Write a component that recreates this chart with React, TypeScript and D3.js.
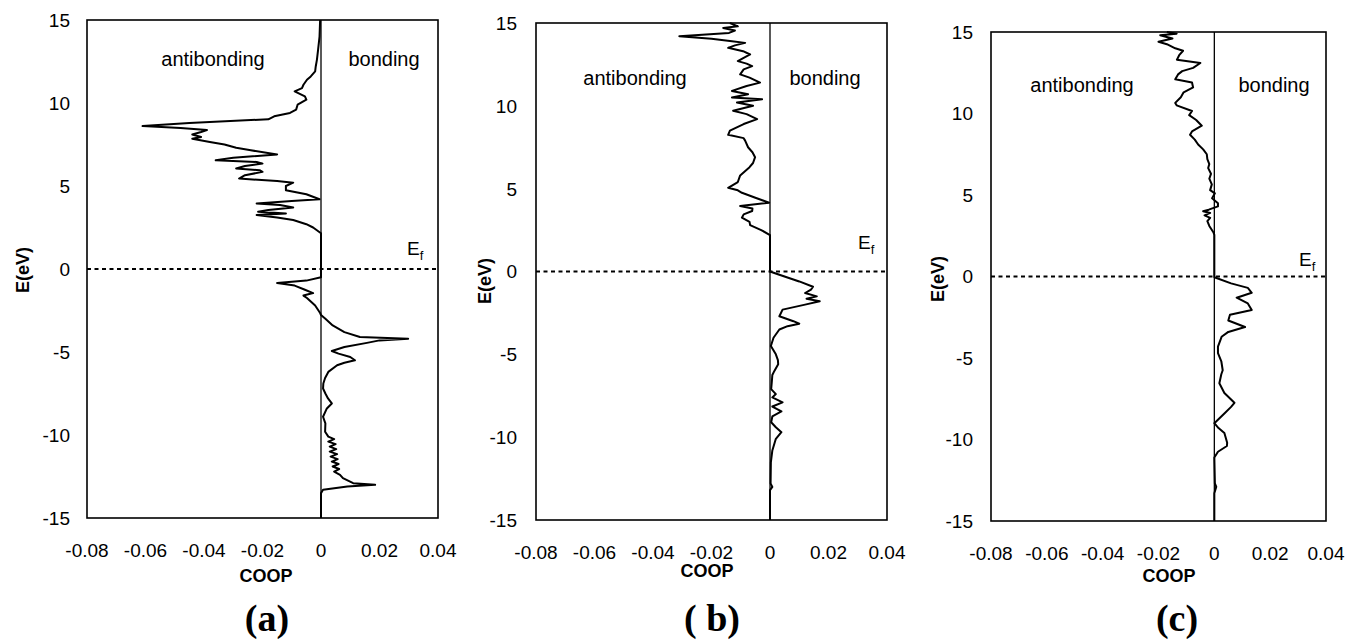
import React, { useRef, useEffect } from 'react';
import * as d3 from 'd3';

type Pt = [number, number]; // [E (eV), COOP]

const coopTicks = [-0.08, -0.06, -0.04, -0.02, 0, 0.02, 0.04];
const coopTickLabels = ['-0.08', '-0.06', '-0.04', '-0.02', '0', '0.02', '0.04'];
const energyTicks = [-15, -10, -5, 0, 5, 10, 15];
const panelLabels = ['(a)', '( b)', '(c)'];

// (a)
const coopA: Pt[] = [
  [15, -0.0003], [14.0, -0.0005], [13.2, -0.001], [12.6, -0.0014], [12.2, -0.0018], [11.9, -0.002],
  [11.6, -0.0035], [11.4, -0.0048], [11.1, -0.006], [10.9, -0.0065], [10.7, -0.009], [10.4, -0.0055],
  [10.2, -0.005], [9.9, -0.008], [9.6, -0.0085], [9.4, -0.0106], [9.2, -0.016], [9.02, -0.018],
  [8.8, -0.045], [8.61, -0.061], [8.5, -0.048], [8.37, -0.039], [8.25, -0.041], [8.1, -0.044],
  [7.95, -0.041], [7.85, -0.044], [7.65, -0.038], [7.5, -0.033], [7.3, -0.029], [7.15, -0.024],
  [6.9, -0.015], [6.7, -0.03], [6.55, -0.036], [6.45, -0.022], [6.35, -0.02], [6.2, -0.026],
  [6.05, -0.029], [5.95, -0.021], [5.85, -0.02], [5.65, -0.026], [5.45, -0.028], [5.3, -0.015],
  [5.2, -0.0095], [5.0, -0.012], [4.75, -0.012], [4.5, -0.005], [4.2, -0.0005], [4.1, -0.01],
  [3.95, -0.022], [3.85, -0.014], [3.7, -0.0095], [3.55, -0.018], [3.45, -0.0215], [3.35, -0.012],
  [3.25, -0.022], [3.1, -0.015], [2.95, -0.0095], [2.7, -0.005], [2.5, -0.0027], [2.15, 0],
  [-0.5, 0], [-0.7, -0.005], [-0.85, -0.015], [-1.0, -0.009], [-1.25, -0.0055], [-1.45, -0.0027],
  [-1.6, -0.006], [-1.75, -0.0048], [-2.2, -0.002], [-2.65, -0.0003], [-2.77, 0], [-3.0, 0.0015],
  [-3.4, 0.004], [-3.8, 0.008], [-4.1, 0.0133], [-4.2, 0.0298], [-4.3, 0.02], [-4.45, 0.0157],
  [-4.7, 0.008], [-4.94, 0.0037], [-5.1, 0.006], [-5.3, 0.01], [-5.5, 0.0116], [-5.65, 0.008],
  [-5.8, 0.0055], [-6.2, 0.0025], [-6.57, 0.0014], [-6.9, 0.0008], [-7.2, 0.0007], [-7.5, 0.0015],
  [-7.8, 0.0024], [-8.1, 0.0037], [-8.4, 0.002], [-8.9, 0.0007], [-9.3, 0.0015], [-9.8, 0.0014],
  [-10.1, 0.0025], [-10.25, 0.0045], [-10.4, 0.0025], [-10.55, 0.005], [-10.7, 0.003], [-10.85, 0.0052],
  [-11.0, 0.003], [-11.15, 0.0055], [-11.3, 0.0033], [-11.45, 0.0057], [-11.6, 0.0037], [-11.75, 0.006],
  [-11.9, 0.004], [-12.05, 0.0062], [-12.2, 0.0045], [-12.4, 0.0065], [-12.6, 0.0075], [-12.9, 0.011],
  [-13.0, 0.0185], [-13.1, 0.009], [-13.3, 0.0007], [-13.5, 0], [-15, 0],
];

// (b)
const coopB: Pt[] = [
  [15, -0.0137], [14.8, -0.011], [14.7, -0.016], [14.55, -0.012], [14.4, -0.014], [14.2, -0.031],
  [14.05, -0.02], [13.9, -0.013], [13.8, -0.0085], [13.65, -0.012], [13.5, -0.0143], [13.3, -0.0092],
  [13.1, -0.0068], [12.9, -0.009], [12.7, -0.011], [12.55, -0.008], [12.4, -0.0061], [12.2, -0.009],
  [11.9, -0.0102], [11.7, -0.007], [11.4, -0.0034], [11.2, -0.008], [10.9, -0.013], [10.7, -0.0075],
  [10.5, -0.013], [10.4, -0.0027], [10.2, -0.0113], [10.0, -0.0058], [9.7, -0.0126], [9.5, -0.008],
  [9.2, -0.0044], [8.9, -0.009], [8.5, -0.0137], [8.25, -0.0143], [8.05, -0.009], [7.9, -0.0085],
  [7.5, -0.0075], [7.2, -0.006], [6.9, -0.0051], [6.55, -0.0058], [6.3, -0.007], [5.8, -0.0102],
  [5.4, -0.011], [5.05, -0.0143], [4.9, -0.011], [4.75, -0.0096], [4.45, -0.005], [4.15, -0.0003],
  [4.0, -0.008], [3.95, -0.0102], [3.8, -0.006], [3.65, -0.0061], [3.45, -0.009], [3.25, -0.0096],
  [3.0, -0.007], [2.8, -0.0068], [2.5, -0.003], [2.2, 0], [0, 0],
  [-0.2, 0.0032], [-0.6, 0.01], [-0.92, 0.0147], [-1.1, 0.014], [-1.3, 0.012], [-1.5, 0.016],
  [-1.65, 0.0125], [-1.8, 0.017], [-2.0, 0.012], [-2.3, 0.0043], [-2.7, 0.0032], [-3.0, 0.008],
  [-3.15, 0.01], [-3.3, 0.006], [-3.5, 0.0032], [-4.0, 0.0012], [-4.5, 0.0003], [-5.0, 0.002],
  [-5.35, 0.0027], [-5.6, 0.0028], [-6.0, 0.0015], [-6.25, 0.0008], [-6.7, 0.0006], [-7.1, 0.0004],
  [-7.4, 0.002], [-7.6, 0.0008], [-7.9, 0.0043], [-8.15, 0.0008], [-8.45, 0.0039], [-8.75, 0.0008],
  [-9.1, 0.0004], [-9.4, 0.002], [-9.7, 0.0039], [-10.1, 0.002], [-10.8, 0.0008], [-11.5, 0.0003],
  [-12.8, 0.0002], [-13.0, 0.0008], [-13.2, 0], [-15, 0],
];

// (c)
const coopC: Pt[] = [
  [15, -0.017], [14.9, -0.0135], [14.8, -0.0194], [14.6, -0.015], [14.4, -0.02], [14.25, -0.017],
  [14.0, -0.014], [13.85, -0.0112], [13.6, -0.0125], [13.3, -0.0134], [13.1, -0.005], [12.8, -0.0076],
  [12.6, -0.0115], [12.4, -0.013], [12.1, -0.014], [11.9, -0.008], [11.6, -0.0076], [11.3, -0.011],
  [11.0, -0.012], [10.65, -0.014], [10.5, -0.0135], [10.15, -0.008], [9.9, -0.009], [9.6, -0.0065],
  [9.25, -0.0045], [8.9, -0.008], [8.7, -0.0087], [8.4, -0.007], [8.1, -0.0058], [7.8, -0.004],
  [7.5, -0.0027], [7.2, -0.0025], [6.9, -0.0018], [6.65, -0.0022], [6.3, -0.0012], [6.0, -0.0018],
  [5.65, -0.0009], [5.3, -0.0015], [5.1, 0.0002], [4.8, -0.0008], [4.5, 0.0013], [4.3, 0.0013],
  [4.1, -0.002], [4.0, -0.004], [3.9, -0.0015], [3.75, -0.0035], [3.6, -0.0015], [3.4, -0.0025],
  [3.1, -0.0018], [2.7, -0.0003], [2.55, 0], [0, 0],
  [-0.05, 0], [-0.42, 0.006], [-0.7, 0.012], [-1.0, 0.0134], [-1.3, 0.008], [-1.65, 0.012],
  [-2.05, 0.0134], [-2.35, 0.0056], [-2.7, 0.005], [-3.1, 0.011], [-3.4, 0.005], [-3.7, 0.0026],
  [-4.3, 0.0013], [-4.7, 0.0013], [-5.2, 0.0025], [-5.75, 0.003], [-6.0, 0.0025], [-6.55, 0.0018],
  [-7.15, 0.0036], [-7.75, 0.0072], [-8.0, 0.006], [-8.4, 0.0036], [-9.0, 0], [-9.3, 0.0015],
  [-9.6, 0.0036], [-10.2, 0.0046], [-10.4, 0.0045], [-10.75, 0.0013], [-11.1, 0], [-12.7, 0.0002],
  [-12.9, 0.0007], [-13.3, 0], [-15, 0],
];

const SANS = '"Liberation Sans", Arial, Helvetica, sans-serif';
const SERIF = '"Liberation Serif", "Times New Roman", serif';

// pixel layout of each panel
const layouts = [
  { left: 87, right: 438, top: 20, bottom: 518, tickX: 70, titleX: 23, titleY: 270, coopX: 266, coopY: 582, labelX: 267, efX: 407, efY: 255, annoY: 66, antiX: 213, bondX: 384 },
  { left: 536, right: 887, top: 23, bottom: 520, tickX: 517, titleX: 485, titleY: 281, coopX: 707, coopY: 577, labelX: 712, efX: 858, efY: 249, annoY: 85, antiX: 635, bondX: 825 },
  { left: 991, right: 1326, top: 32, bottom: 521, tickX: 973, titleX: 938, titleY: 279, coopX: 1169, coopY: 582, labelX: 1177, efX: 1299, efY: 266, annoY: 92, antiX: 1082, bondX: 1274 },
];

const series = [coopA, coopB, coopC];

export default function App() {
  const svgRef = useRef<SVGSVGElement>(null);

  useEffect(() => {
    if (!svgRef.current) return;
    const svg = d3.select(svgRef.current);
    svg.selectAll('*').remove();

    layouts.forEach((L, i) => {
      const g = svg.append('g');
      const x = d3.scaleLinear().domain([-0.08, 0.04]).range([L.left, L.right]);
      const y = d3.scaleLinear().domain([-15, 15]).range([L.bottom, L.top]);

      // frame
      g.append('rect')
        .attr('x', x(-0.08)).attr('y', y(15))
        .attr('width', x(0.04) - x(-0.08)).attr('height', y(-15) - y(15))
        .attr('fill', 'none').attr('stroke', '#000').attr('stroke-width', 1.6);

      // zero COOP line
      g.append('line')
        .attr('x1', x(0)).attr('x2', x(0)).attr('y1', y(15)).attr('y2', y(-15))
        .attr('stroke', '#000').attr('stroke-width', 1.3);

      // Fermi level
      g.append('line')
        .attr('x1', x(-0.08)).attr('x2', x(0.04)).attr('y1', y(0)).attr('y2', y(0))
        .attr('stroke', '#000').attr('stroke-width', 2).attr('stroke-dasharray', '4,3.5');

      const line = d3.line<Pt>().x(d => x(d[1])).y(d => y(d[0]));
      g.append('path')
        .datum(series[i])
        .attr('d', line)
        .attr('fill', 'none').attr('stroke', '#000').attr('stroke-width', 2)
        .attr('stroke-linejoin', 'round');

      // x tick labels
      g.selectAll('.xt').data(coopTicks).enter().append('text')
        .attr('x', d => x(d)).attr('y', L.bottom + 39)
        .attr('text-anchor', 'middle')
        .attr('font-family', SANS).attr('font-size', 19)
        .text((d, k) => coopTickLabels[k]);

      // y tick labels
      g.selectAll('.yt').data(energyTicks).enter().append('text')
        .attr('x', L.tickX).attr('y', d => y(d)).attr('dy', '0.36em')
        .attr('text-anchor', 'end')
        .attr('font-family', SANS).attr('font-size', 19)
        .text(d => String(d));

      g.append('text')
        .attr('transform', `translate(${L.titleX},${L.titleY}) rotate(-90)`)
        .attr('text-anchor', 'middle').attr('dy', '0.36em')
        .attr('font-family', SANS).attr('font-size', 18).attr('font-weight', 'bold')
        .text('E(eV)');

      g.append('text')
        .attr('x', L.coopX).attr('y', L.coopY)
        .attr('text-anchor', 'middle')
        .attr('font-family', SANS).attr('font-size', 18).attr('font-weight', 'bold')
        .text('COOP');

      g.append('text')
        .attr('x', L.antiX).attr('y', L.annoY)
        .attr('text-anchor', 'middle')
        .attr('font-family', SANS).attr('font-size', 20)
        .text('antibonding');
      g.append('text')
        .attr('x', L.bondX).attr('y', L.annoY)
        .attr('text-anchor', 'middle')
        .attr('font-family', SANS).attr('font-size', 20)
        .text('bonding');

      const ef = g.append('text')
        .attr('x', L.efX).attr('y', L.efY)
        .attr('font-family', SANS).attr('font-size', 19);
      ef.append('tspan').text('E');
      ef.append('tspan').attr('font-size', 13).attr('dy', 5).text('f');

      g.append('text')
        .attr('x', L.labelX).attr('y', 631)
        .attr('text-anchor', 'middle')
        .attr('font-family', SERIF).attr('font-size', 38).attr('font-weight', 'bold')
        .text(panelLabels[i]);
    });
  }, []);

  return (
    <svg
      ref={svgRef}
      width={1346}
      height={642}
      style={{ position: 'absolute', left: 0, top: 0, background: '#fff' }}
    />
  );
}
